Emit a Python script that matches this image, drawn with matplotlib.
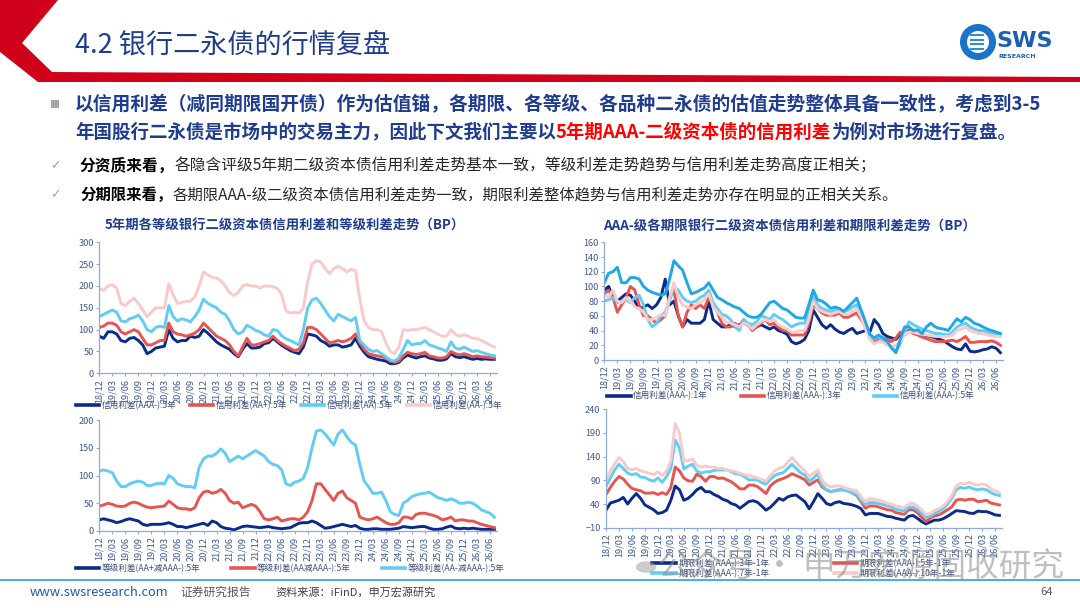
import numpy as np
import matplotlib.pyplot as plt
from matplotlib.patches import Polygon, Rectangle, Circle

plt.rcParams['font.family'] = ['Noto Sans CJK SC', 'DejaVu Sans']

# ---------------- data (monthly readings, 2018/12 .. 2026/07) ----------------
quarter_labels = ['18/12', '19/03', '19/06', '19/09', '19/12', '20/03', '20/06', '20/09',
                  '20/12', '21/03', '21/06', '21/09', '21/12', '22/03', '22/06', '22/09',
                  '22/12', '23/03', '23/06', '23/09', '23/12', '24/03', '24/06', '24/09',
                  '24/12', '25/03', '25/06', '25/09', '25/12', '26/03', '26/06']

# left top: 5Y credit spreads by rating
cs5_aaam = [85, 80, 95, 95, 90, 75, 72, 80, 82, 75, 65, 45, 50, 58, 60, 62, 100, 80, 72, 75,
            75, 85, 82, 85, 100, 92, 82, 72, 65, 60, 55, 45, 38, 55, 68, 58, 58, 60, 68, 70,
            80, 72, 64, 58, 52, 48, 45, 60, 90, 88, 85, 75, 70, 62, 65, 65, 60, 62, 65, 80,
            62, 48, 38, 35, 32, 30, 28, 22, 22, 25, 35, 42, 38, 35, 38, 40, 35, 33, 30, 30,
            33, 45, 38, 36, 38, 35, 32, 34, 32, 33, 32, 32]
cs5_aap = [105, 108, 115, 115, 110, 95, 90, 95, 100, 95, 80, 65, 65, 70, 75, 75, 115, 95, 90, 88,
           85, 88, 92, 100, 115, 105, 95, 85, 80, 75, 65, 50, 40, 60, 80, 65, 65, 68, 72, 75,
           85, 75, 68, 62, 57, 52, 55, 70, 105, 105, 100, 90, 80, 70, 72, 75, 72, 75, 80, 90,
           70, 55, 45, 42, 40, 38, 35, 28, 25, 28, 40, 48, 45, 43, 45, 48, 40, 38, 35, 35,
           38, 50, 45, 42, 45, 42, 38, 40, 38, 37, 36, 35]
cs5_aa = [130, 135, 140, 145, 140, 120, 118, 125, 128, 133, 120, 100, 95, 105, 108, 105, 155, 130, 120, 125,
          122, 118, 130, 145, 170, 160, 155, 150, 140, 135, 120, 100, 90, 95, 110, 105, 98, 95, 88, 85,
          100, 98, 86, 79, 75, 70, 65, 100, 150, 168, 172, 160, 145, 130, 120, 135, 130, 125, 120, 128,
          75, 65, 55, 50, 52, 45, 38, 30, 28, 35, 55, 75, 65, 68, 68, 75, 65, 62, 58, 55,
          50, 72, 58, 55, 60, 55, 50, 52, 48, 45, 42, 40]
cs5_aam = [195, 190, 200, 203, 195, 160, 155, 165, 172, 160, 145, 130, 140, 150, 150, 150, 205, 180, 160, 162,
           165, 165, 175, 200, 232, 225, 220, 218, 212, 200, 185, 178, 185, 200, 203, 200, 200, 195, 200, 200,
           198, 195, 180, 143, 138, 140, 138, 150, 210, 250, 258, 255, 240, 228, 240, 245, 240, 232, 238, 235,
           170, 120, 105, 100, 100, 95, 70, 50, 45, 60, 100, 98, 100, 100, 103, 105, 100, 95, 90, 85,
           85, 100, 90, 85, 88, 85, 80, 80, 75, 70, 65, 60]

# left bottom: 5Y rating spreads
gs_aap = [20, 22, 20, 18, 15, 17, 20, 22, 20, 18, 12, 10, 12, 12, 12, 13, 15, 12, 8, 8,
          6, 8, 10, 12, 14, 10, 18, 15, 8, 5, 4, 2, 5, 8, 9, 8, 7, 6, 7, 8,
          6, 5, 4, 5, 6, 10, 14, 15, 15, 18, 15, 10, 5, 6, 8, 10, 12, 10, 8, 10,
          5, 3, 3, 4, 4, 3, 3, 3, 4, 5, 8, 7, 6, 7, 8, 8, 5, 3, 3, 4,
          7, 9, 5, 4, 5, 4, 5, 4, 3, 3, 3, 3]
gs_aa = [45, 47, 50, 48, 45, 44, 45, 50, 52, 50, 46, 43, 42, 43, 44, 45, 54, 48, 42, 40,
         40, 38, 42, 60, 70, 72, 68, 70, 75, 68, 55, 50, 52, 42, 45, 48, 45, 35, 22, 20,
         22, 25, 18, 20, 22, 22, 20, 25, 35, 55, 85, 85, 75, 65, 55, 68, 72, 60, 55, 50,
         25, 22, 20, 22, 25, 20, 15, 12, 12, 15, 25, 25, 22, 30, 32, 32, 30, 28, 25, 20,
         22, 25, 18, 20, 20, 18, 18, 15, 12, 10, 8, 6]
gs_aam = [108, 110, 108, 105, 90, 80, 80, 85, 88, 90, 88, 82, 82, 85, 86, 85, 100, 95, 85, 82,
          80, 80, 78, 115, 130, 135, 135, 140, 148, 140, 125, 130, 135, 130, 135, 140, 145, 140, 135, 125,
          120, 118, 110, 85, 82, 88, 90, 95, 115, 150, 180, 182, 175, 165, 155, 175, 182, 170, 160, 155,
          120, 90, 80, 68, 68, 70, 55, 35, 30, 28, 50, 55, 62, 65, 67, 68, 70, 65, 60, 58,
          55, 58, 55, 50, 50, 52, 50, 45, 38, 35, 32, 25]

# right top: AAA- credit spreads by tenor
cs_1y = [95, 100, 85, 80, 85, 90, 88, 80, 70, 72, 75, 70, 75, 85, 110, 75, 80, 60, 45, 55,
         50, 50, 50, 55, 80, 55, 50, 45, 45, 48, 45, 48, 50, 48, 42, 45, 48, 45, 42, 45,
         40, 38, 35, 25, 22, 24, 28, 40, 68, 58, 48, 43, 48, 42, 38, 36, 40, 43, 36, 38,
         40, 38, 55, 48, 36, 32, 30, 28, 35, 38, 40, 38, 36, 35, 33, 32, 30, 28, 26, 22,
         18, 15, 14, 22, 12, 11, 12, 14, 15, 18, 16, 10]
cs_3y = [90, 95, 85, 65, 75, 85, 100, 95, 75, 60, 60, 55, 50, 55, 60, 85, 95, 60, 45, 65,
         75, 70, 75, 70, 85, 75, 65, 50, 45, 45, 50, 45, 55, 48, 40, 45, 50, 55, 48, 50,
         45, 40, 40, 34, 34, 34, 34, 50, 75, 70, 64, 61, 61, 61, 64, 58, 58, 61, 64, 55,
         45, 35, 25, 28, 30, 28, 25, 30, 38, 34, 40, 36, 34, 31, 29, 27, 25, 25, 25, 26,
         27, 25, 28, 32, 24, 24, 25, 25, 25, 26, 24, 20]
cs_5y = [80, 82, 85, 78, 80, 82, 78, 85, 88, 75, 55, 45, 50, 60, 65, 80, 100, 95, 85, 80,
         78, 80, 85, 88, 95, 78, 70, 62, 60, 55, 45, 40, 55, 50, 48, 52, 60, 58, 55, 62,
         58, 55, 50, 45, 48, 50, 50, 65, 88, 75, 70, 68, 65, 68, 70, 65, 68, 72, 75, 60,
         48, 32, 28, 32, 26, 22, 18, 12, 22, 38, 52, 48, 45, 42, 40, 38, 36, 36, 35, 34,
         38, 45, 48, 50, 45, 42, 40, 40, 38, 36, 35, 34]
cs_7y = [88, 85, 95, 80, 78, 85, 80, 72, 70, 65, 55, 55, 58, 62, 60, 85, 105, 85, 75, 72,
         70, 75, 78, 82, 90, 72, 65, 58, 52, 50, 48, 45, 50, 48, 42, 48, 52, 55, 52, 55,
         48, 45, 42, 38, 38, 40, 40, 55, 80, 70, 66, 64, 62, 64, 66, 62, 62, 66, 70, 58,
         42, 28, 22, 25, 24, 20, 18, 20, 25, 35, 38, 38, 36, 35, 34, 33, 32, 32, 32, 32,
         34, 40, 42, 45, 40, 38, 36, 36, 34, 33, 32, 32]
cs_10y = [105, 118, 120, 126, 105, 105, 112, 112, 110, 100, 95, 92, 90, 88, 90, 110, 135, 128, 122, 105,
          90, 92, 95, 98, 105, 95, 85, 82, 78, 75, 72, 70, 65, 60, 58, 58, 62, 70, 78, 80,
          75, 70, 68, 63, 58, 57, 57, 75, 95, 82, 80, 76, 70, 72, 70, 66, 72, 78, 84, 68,
          52, 35, 30, 34, 30, 25, 16, 10, 28, 45, 45, 40, 41, 36, 45, 50, 45, 43, 42, 40,
          48, 56, 52, 58, 55, 50, 48, 45, 42, 40, 38, 36]

# right bottom: AAA- term spreads
ts_3_1 = [27, 42, 45, 48, 54, 40, 52, 62, 52, 38, 33, 28, 20, 22, 27, 48, 78, 70, 48, 52,
          60, 70, 75, 66, 66, 60, 56, 50, 47, 41, 38, 31, 38, 45, 47, 44, 36, 27, 33, 42,
          52, 48, 55, 58, 59, 52, 45, 30, 45, 62, 52, 41, 38, 43, 45, 41, 40, 38, 35, 30,
          17, 20, 20, 20, 17, 14, 13, 10, 8, 6, 14, 16, 10, 3, -2, 2, 6, 6, 9, 14,
          20, 26, 25, 24, 21, 20, 25, 24, 24, 21, 17, 16]
ts_5_1 = [60, 75, 88, 98, 93, 82, 73, 70, 68, 63, 63, 64, 60, 64, 60, 75, 118, 110, 95, 89,
          88, 103, 98, 88, 98, 98, 94, 95, 91, 87, 80, 72, 72, 80, 80, 77, 70, 62, 78, 86,
          91, 94, 98, 104, 100, 96, 91, 80, 86, 91, 76, 70, 66, 68, 70, 70, 68, 63, 58, 45,
          31, 36, 36, 34, 31, 28, 27, 22, 20, 18, 28, 28, 22, 12, 3, 10, 15, 17, 22, 28,
          34, 48, 50, 48, 50, 50, 45, 46, 48, 42, 40, 38]
ts_7_1 = [77, 95, 112, 124, 115, 105, 102, 104, 97, 96, 91, 88, 95, 86, 98, 115, 175, 158, 114, 120,
          124, 110, 105, 108, 108, 111, 112, 112, 112, 108, 104, 103, 98, 91, 91, 91, 85, 82, 92, 100,
          104, 106, 115, 124, 115, 106, 101, 88, 95, 104, 80, 70, 66, 69, 70, 70, 67, 63, 60, 48,
          39, 43, 43, 41, 39, 36, 34, 29, 27, 25, 33, 34, 28, 20, 12, 14, 20, 25, 30, 40,
          52, 70, 75, 73, 76, 72, 70, 72, 70, 64, 60, 58]
ts_10_1 = [90, 110, 125, 138, 130, 115, 112, 115, 110, 108, 105, 102, 108, 100, 110, 130, 210, 190, 130, 132,
           135, 122, 118, 120, 118, 118, 115, 115, 112, 110, 108, 105, 102, 100, 98, 95, 92, 88, 100, 110,
           115, 118, 128, 138, 128, 118, 110, 98, 105, 112, 90, 80, 76, 78, 78, 75, 72, 70, 68, 55,
           45, 52, 50, 48, 46, 42, 40, 36, 34, 32, 40, 42, 36, 28, 18, 20, 26, 30, 36, 45,
           58, 78, 84, 82, 86, 82, 80, 82, 80, 72, 68, 64]

# ---------------- styles ----------------
NAVY = '#0B2B8C'
RED = '#E65550'
LBLUE = '#62CDF4'
PINK = '#F8CACA'
SKY = '#1FA8E3'
DARKBLUE = '#1F3C8F'
TICK_C = '#3D5A98'
AXIS_C = '#8FAADC'

W, H = 1080, 608
fig = plt.figure(figsize=(10.8, 6.08), dpi=100)
bg = fig.add_axes([0, 0, 1, 1], zorder=-5)
bg.set_xlim(0, W)
bg.set_ylim(H, 0)
bg.axis('off')
renderer = fig.canvas.get_renderer()

# header
bg.add_patch(Polygon([(0, 0), (58, 0), (22, 43), (52, 72), (W, 77), (W, 82), (38, 82), (0, 52)],
                     closed=True, fc='#D0021B', ec='none'))
bg.text(75, 45, '4.2 银行二永债的行情复盘', fontsize=19.5, color=DARKBLUE, va='center')

# logo
bg.add_patch(Circle((978, 42), 18, fc='#1A74C9', ec='none'))
bg.add_patch(Circle((978, 42), 11, fc='white', ec='none'))
for k in range(4):
    bg.add_patch(Rectangle((970, 34 + 4.5 * k), 14, 2.4, fc='#2C8FDB', ec='none'))
bg.text(996, 41, 'SWS', fontsize=16, fontweight='bold', color='#1A5FB4', va='center',
        family='DejaVu Sans')
bg.text(998, 57, 'RESEARCH', fontsize=4.5, fontweight='bold', color='#1A5FB4', va='center',
        family='DejaVu Sans')


def rich(x, y, parts, size):
    for txt, color, weight in parts:
        t = bg.text(x, y, txt, fontsize=size, color=color, fontweight=weight, va='center')
        x += t.get_window_extent(renderer).width


bg.add_patch(Rectangle((51, 100), 8, 8, fc='#A6A6A6', ec='none'))
rich(75, 105, [('以信用利差（减同期限国开债）作为估值锚，各期限、各等级、各品种二永债的估值走势整体具备一致性，考虑到3-5',
                DARKBLUE, 'bold')], 13.5)
rich(75, 132, [('年国股行二永债是市场中的交易主力，因此下文我们主要以', DARKBLUE, 'bold'),
               ('5年期AAA-二级资本债的信用利差', '#FF0000', 'bold'),
               ('为例对市场进行复盘。', DARKBLUE, 'bold')], 13.3)
bg.text(50, 166, '✓', fontsize=9, color='#A0A0A0', va='center', family=['DejaVu Sans'])
bg.text(50, 195, '✓', fontsize=9, color='#A0A0A0', va='center', family=['DejaVu Sans'])
rich(80, 166, [('分资质来看，', '#000000', 'bold'),
               ('各隐含评级5年期二级资本债信用利差走势基本一致，等级利差走势趋势与信用利差走势高度正相关；', '#262626', 'normal')],
     11.3)
rich(80, 195, [('分期限来看，', '#000000', 'bold'),
               ('各期限AAA-级二级资本债信用利差走势一致，期限利差整体趋势与信用利差走势亦存在明显的正相关关系。', '#262626', 'normal')],
     11.1)

bg.text(105, 226, '5年期各等级银行二级资本债信用利差和等级利差走势（BP）', fontsize=9.6,
        fontweight='bold', color=DARKBLUE, va='center')
bg.text(603, 227, 'AAA-级各期限银行二级资本债信用利差和期限利差走势（BP）', fontsize=9.7,
        fontweight='bold', color=DARKBLUE, va='center')

# footer
bg.plot([0, W], [580, 580], color='#2A9FD8', lw=1.2)
bg.text(30, 592, 'www.swsresearch.com', fontsize=9.3, color='#1F5AA6', va='center')
bg.text(180, 592, '证券研究报告', fontsize=8.5, color='#595959', va='center')
bg.text(275, 592, '资料来源：iFinD，申万宏源研究', fontsize=8, color='#404040', va='center')
bg.text(1040, 592, '64', fontsize=8, color='#595959', va='center')


def px_axes(x0, y0, x1, y1):
    return fig.add_axes([x0 / W, 1 - y1 / H, (x1 - x0) / W, (y1 - y0) / H])


def chart(ax, series, ylim, yticks):
    x = np.arange(len(series[0][0]))
    for vals, color, lab in series:
        ax.plot(x, vals, color=color, lw=2.1, label=lab, solid_joinstyle='round')
    ax.set_xlim(0, 91.6)
    ax.set_ylim(*ylim)
    ax.set_yticks(yticks)
    ax.set_xticks(np.arange(0, 91, 3))
    ax.set_xticklabels(quarter_labels, rotation=90)
    ax.tick_params(labelsize=6.6, colors=AXIS_C, labelcolor=TICK_C, length=2.5, width=0.8, pad=1.5)
    for s in ['top', 'right']:
        ax.spines[s].set_visible(False)
    for s in ['left', 'bottom']:
        ax.spines[s].set_color(AXIS_C)
        ax.spines[s].set_linewidth(0.9)
    ax.set_facecolor('none')


def legend(ax, handles, anchor, ncol, colsp):
    leg = ax.legend(handles=handles, loc='center', bbox_to_anchor=anchor, ncol=ncol,
                    frameon=False, fontsize=6.2, handlelength=2.7, handletextpad=0.3,
                    borderaxespad=0, borderpad=0, columnspacing=colsp, labelspacing=0.1)
    for t in leg.get_texts():
        t.set_color('#3B4E7A')
    for l in leg.get_lines():
        l.set_linewidth(2.6)


ax1 = px_axes(99.3, 242.3, 497, 373.3)
chart(ax1, [(cs5_aaam, NAVY, '信用利差(AAA-):5年'), (cs5_aap, RED, '信用利差(AA+):5年'),
            (cs5_aa, LBLUE, '信用利差(AA):5年'), (cs5_aam, PINK, '信用利差(AA-):5年')],
      (0, 300), range(0, 301, 50))
legend(ax1, ax1.get_lines(), (0.477, -0.245), 4, 1.6)

ax2 = px_axes(99.3, 420, 497, 531)
chart(ax2, [(gs_aap, NAVY, '等级利差(AA+减AAA-):5年'), (gs_aa, RED, '等级利差(AA减AAA-):5年'),
            (gs_aam, LBLUE, '等级利差(AA-减AAA-):5年')],
      (0, 200), range(0, 201, 50))
legend(ax2, ax2.get_lines(), (0.48, -0.335), 3, 3.6)

ax3 = px_axes(604.3, 242.3, 1003, 360)
chart(ax3, [(cs_1y, NAVY, '信用利差(AAA-):1年'), (cs_3y, RED, '信用利差(AAA-):3年'),
            (cs_5y, LBLUE, '信用利差(AAA-):5年'), (cs_7y, PINK, '信用利差(AAA-):7年'),
            (cs_10y, SKY, '信用利差(AAA-):10年')],
      (0, 160), range(0, 161, 20))
legend(ax3, ax3.get_lines()[:3], (0.468, -0.306), 3, 3.8)

ax4 = px_axes(606, 409.3, 1002, 527.7)
chart(ax4, [(ts_3_1, NAVY, '期限利差(AAA-):3年-1年'), (ts_5_1, RED, '期限利差(AAA-):5年-1年'),
            (ts_7_1, LBLUE, '期限利差(AAA-):7年-1年'), (ts_10_1, PINK, '期限利差(AAA-):10年-1年')],
      (-10, 240), range(-10, 241, 50))
l4 = ax4.get_lines()
legend(ax4, [l4[0], l4[2], l4[1], l4[3]], (0.5, -0.345), 2, 7.5)

# watermark
fig.patches.append(Circle((646 / W, 1 - 567 / H), 0.0095, transform=fig.transFigure,
                          fc='#9a9a9a', alpha=0.5, ec='none'))
fig.text(658 / W, 1 - 567 / H, '公众号 · 申万宏源固收研究', fontsize=23.5, color='#8c8c8c',
         alpha=0.55, va='center', zorder=10)

fig.savefig('out.png', dpi=100)
